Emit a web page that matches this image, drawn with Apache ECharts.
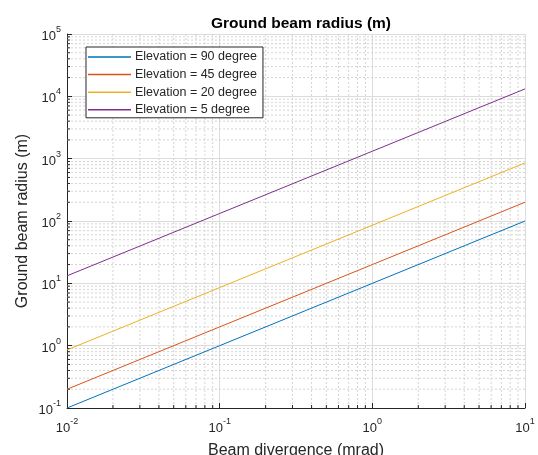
<!DOCTYPE html>
<html>
<head>
<meta charset="utf-8">
<script src="https://cdn.jsdelivr.net/npm/echarts@6/dist/echarts.min.js"></script>
<style>
html,body{margin:0;padding:0;background:#fff;}
#c{width:538px;height:455px;}
</style>
</head>
<body>
<div id="c"></div>
<script>
// ---- data ----
const divergence = [0.01, 0.1, 1, 10];             // mrad
const seriesNames = ['Elevation = 90 degree', 'Elevation = 45 degree', 'Elevation = 20 degree', 'Elevation = 5 degree'];
const radius90 = [0.1, 1, 10, 100];
const radius45 = [0.2, 2, 20, 200];
const radius20 = [0.855, 8.55, 85.5, 855];
const radius5  = [13.2, 132, 1316, 13160];
const colors = ['#0072BD', '#D95319', '#EDB120', '#7E2F8E'];
const xTickExps = [-2, -1, 0, 1];
const yTickExps = [-1, 0, 1, 2, 3, 4, 5];
const xMin = 0.01, xMax = 10, yMin = 0.1, yMax = 100000;

function minorValues(exps) {
  const out = [];
  for (let i = 0; i < exps.length - 1; i++) {
    const base = Math.pow(10, exps[i]);
    for (let m = 2; m <= 9; m++) out.push(m * base);
  }
  return out;
}
const xMinor = minorValues(xTickExps);
const yMinor = minorValues(yTickExps);

const FONT = 'Liberation Sans, Arial, Helvetica, sans-serif';
const TXT = '#262626';
const AX = '#262626';

function expLabel(exps) {
  return function (v) {
    const e = Math.round(Math.log10(v));
    if (exps.indexOf(e) < 0) return '';
    return '{b|10}{s|' + e + '}';
  };
}
const rich = {
  b: { fontSize: 13, color: TXT, fontFamily: FONT, lineHeight: 18, verticalAlign: 'bottom' },
  s: { fontSize: 9, color: TXT, fontFamily: FONT, lineHeight: 9, verticalAlign: 'top' }
};

const chart = echarts.init(document.getElementById('c'), null, { renderer: 'canvas' });

const dataOf = arr => divergence.map((x, i) => [x, arr[i]]);

const lineSeries = [radius90, radius45, radius20, radius5].map((arr, i) => ({
  name: seriesNames[i],
  type: 'line',
  data: dataOf(arr),
  symbol: 'none',
  lineStyle: { color: colors[i], width: 1 },
  itemStyle: { color: colors[i] },
  z: 5,
  silent: true
}));

const minorX = {
  type: 'custom',
  silent: true,
  z: 1,
  data: xMinor.map(v => [v, yMin]),
  renderItem: function (params, api) {
    const v = api.value(0);
    const p0 = api.coord([v, yMin]);
    const p1 = api.coord([v, yMax]);
    return {
      type: 'group',
      children: [
        { type: 'line', shape: { x1: p0[0], y1: p0[1], x2: p1[0], y2: p1[1] },
          style: { stroke: '#d4d4d4', lineWidth: 1, lineDash: [2, 2] } },
        { type: 'line', shape: { x1: p0[0], y1: p0[1], x2: p0[0], y2: p0[1] - 3 },
          style: { stroke: AX, lineWidth: 1 } }
      ]
    };
  }
};
const minorY = {
  type: 'custom',
  silent: true,
  z: 1,
  data: yMinor.map(v => [xMin, v]),
  renderItem: function (params, api) {
    const v = api.value(1);
    const p0 = api.coord([xMin, v]);
    const p1 = api.coord([xMax, v]);
    return {
      type: 'group',
      children: [
        { type: 'line', shape: { x1: p0[0], y1: p0[1], x2: p1[0], y2: p1[1] },
          style: { stroke: '#d4d4d4', lineWidth: 1, lineDash: [2, 2] } },
        { type: 'line', shape: { x1: p0[0], y1: p0[1], x2: p0[0] + 3, y2: p0[1] },
          style: { stroke: AX, lineWidth: 1 } }
      ]
    };
  }
};

chart.setOption({
  animation: false,
  backgroundColor: '#ffffff',
  title: {
    text: 'Ground beam radius (m)',
    left: 296, top: 11, textAlign: 'center',
    textStyle: { fontFamily: FONT, fontSize: 15.5, fontWeight: 'bold', color: '#000' }
  },
  legend: {
    data: seriesNames,
    orient: 'vertical',
    left: 86, top: 47,
    icon: 'rect',
    itemWidth: 43, itemHeight: 1.5,
    itemGap: 3.6,
    padding: [3, 6, 1, 2],
    borderColor: '#262626', borderWidth: 1,
    backgroundColor: '#ffffff',
    textStyle: { fontFamily: FONT, fontSize: 12.5, color: TXT, lineHeight: 14, padding: [0, 0, 0, -1] }
  },
  grid: { left: 67, right: 13, top: 34, bottom: 47, containLabel: false, outerBoundsMode: 'none' },
  xAxis: {
    type: 'log', logBase: 10, min: xMin, max: xMax,
    name: 'Beam divergence (mrad)', nameLocation: 'middle', nameGap: 35,
    nameTextStyle: { fontFamily: FONT, fontSize: 16, color: TXT },
    axisLine: { show: true, lineStyle: { color: AX, width: 1 } },
    axisTick: { show: true, inside: true, length: 5, lineStyle: { color: AX } },
    axisLabel: { formatter: expLabel(xTickExps), rich: rich, margin: 9 },
    splitLine: { show: true, lineStyle: { color: '#dcdcdc', width: 1 } }
  },
  yAxis: {
    type: 'log', logBase: 10, min: yMin, max: yMax,
    name: 'Ground beam radius (m)', nameLocation: 'middle', nameGap: 36,
    nameMoveOverlap: false,
    nameTextStyle: { fontFamily: FONT, fontSize: 16, color: TXT },
    axisLine: { show: true, lineStyle: { color: AX, width: 1 } },
    axisTick: { show: true, inside: true, length: 5, lineStyle: { color: AX } },
    axisLabel: { formatter: expLabel(yTickExps), rich: rich, margin: 6 },
    splitLine: { show: true, lineStyle: { color: '#dcdcdc', width: 1 } }
  },
  series: [minorX, minorY].concat(lineSeries)
});
</script>
</body>
</html>
